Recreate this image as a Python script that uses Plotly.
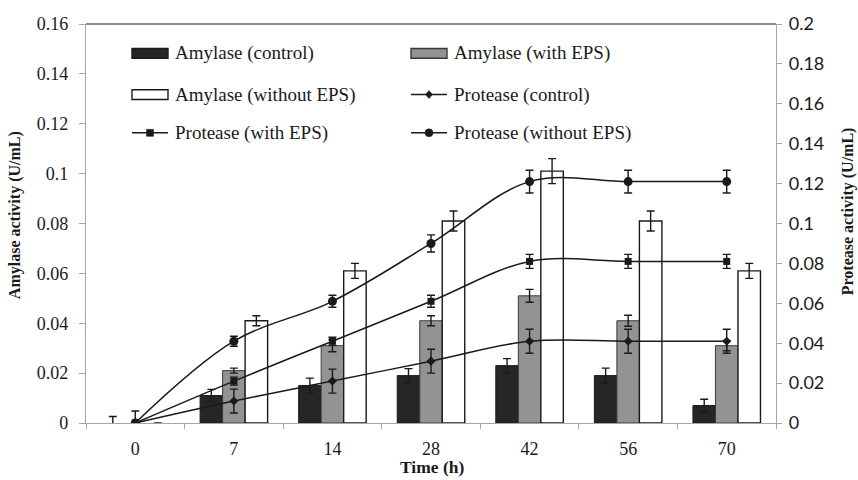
import plotly.graph_objects as go

# Sampling times (h)
times = ["0", "7", "14", "28", "42", "56", "70"]

# Amylase activity (U/mL), left axis
amy_control = [0, 0.011, 0.015, 0.019, 0.023, 0.019, 0.007]
amy_control_err = [0.0026, 0.0025, 0.003, 0.0028, 0.0028, 0.003, 0.0025]
amy_eps = [0, 0.021, 0.031, 0.041, 0.051, 0.041, 0.031]
amy_eps_err = [0, 0.001, 0.0024, 0.002, 0.0026, 0.0022, 0.002]
amy_noeps = [0, 0.041, 0.061, 0.081, 0.101, 0.081, 0.061]
amy_noeps_err = [0, 0.002, 0.003, 0.004, 0.005, 0.004, 0.003]

# Protease activity (U/mL), right axis
pro_control = [0, 0.011, 0.021, 0.031, 0.041, 0.041, 0.041]
pro_control_err = [0.006, 0.006, 0.006, 0.006, 0.006, 0.006, 0.006]
pro_eps = [0, 0.021, 0.041, 0.061, 0.081, 0.081, 0.081]
pro_eps_err = [0, 0.002, 0.002, 0.003, 0.0035, 0.0035, 0.0035]
pro_noeps = [0, 0.041, 0.061, 0.090, 0.121, 0.121, 0.121]
pro_noeps_err = [0, 0.0025, 0.003, 0.0043, 0.0057, 0.0057, 0.0057]

SERIF = "Liberation Serif"
SANS = "Lato"
AXIS_GREY = "#a6a6a6"

# plot-area geometry in pixels (for placing the hand-built legend)
L, R, T, B = 86, 776, 16, 423
def px_x(p):
    return (p - L) / (R - L)
def px_y(p):
    return (B - p) / (B - T)

def edge_widths(vals, w):
    return [0 if v == 0 else w for v in vals]

def err(arr):
    return dict(type="data", array=arr, visible=True, color="#1a1a1a",
                thickness=1.4, width=4)

fig = go.Figure()

fig.add_trace(go.Bar(
    x=times, y=amy_control, name="Amylase (control)",
    marker=dict(color="#262626", line=dict(color="#1a1a1a", width=edge_widths(amy_control, 1))),
    error_y=err(amy_control_err), showlegend=False))
fig.add_trace(go.Bar(
    x=times, y=amy_eps, name="Amylase (with EPS)",
    marker=dict(color="#939393", line=dict(color="#3a3a3a", width=edge_widths(amy_eps, 1))),
    error_y=err(amy_eps_err), showlegend=False))
fig.add_trace(go.Bar(
    x=times, y=amy_noeps, name="Amylase (without EPS)",
    marker=dict(color="#ffffff", line=dict(color="#1a1a1a", width=edge_widths(amy_noeps, 1.4))),
    error_y=err(amy_noeps_err), showlegend=False))

line_style = dict(color="#1a1a1a", width=1.5, shape="spline", smoothing=1)
fig.add_trace(go.Scatter(
    x=times, y=pro_control, name="Protease (control)", yaxis="y2", mode="lines+markers",
    line=line_style, marker=dict(symbol="diamond", size=7, color="#1a1a1a"),
    error_y=err(pro_control_err), showlegend=False))
fig.add_trace(go.Scatter(
    x=times, y=pro_eps, name="Protease (with EPS)", yaxis="y2", mode="lines+markers",
    line=line_style, marker=dict(symbol="square", size=7, color="#1a1a1a"),
    error_y=err(pro_eps_err), showlegend=False))
fig.add_trace(go.Scatter(
    x=times, y=pro_noeps, name="Protease (without EPS)", yaxis="y2", mode="lines+markers",
    line=line_style, marker=dict(symbol="circle", size=9, color="#1a1a1a"),
    error_y=err(pro_noeps_err), showlegend=False))

# ---- legend drawn as shapes + text, laid out in two columns ----
shapes = []
annotations = []
col_x = [132, 411]
row_y = [46, 88, 127]
sw = 36
items = [
    ("bar", "#262626", "#1a1a1a", None, "Amylase (control)"),
    ("bar", "#939393", "#3a3a3a", None, "Amylase (with EPS)"),
    ("bar", "#ffffff", "#1a1a1a", None, "Amylase (without EPS)"),
    ("line", None, None, "diamond", "Protease (control)"),
    ("line", None, None, "square", "Protease (with EPS)"),
    ("line", None, None, "circle", "Protease (without EPS)"),
]
for i, (kind, fill, edge, sym, label) in enumerate(items):
    cx = col_x[i % 2]
    cy = row_y[i // 2]
    if kind == "bar":
        shapes.append(dict(type="rect", xref="paper", yref="paper",
                           x0=px_x(cx), x1=px_x(cx + sw), y0=px_y(cy + 5), y1=px_y(cy - 5),
                           fillcolor=fill, line=dict(color=edge, width=1.4)))
    else:
        shapes.append(dict(type="line", xref="paper", yref="paper",
                           x0=px_x(cx), x1=px_x(cx + sw), y0=px_y(cy), y1=px_y(cy),
                           line=dict(color="#1a1a1a", width=1.5)))
        mx, my = px_x(cx + sw / 2), px_y(cy)
        common = dict(xref="paper", yref="paper", xsizemode="pixel", ysizemode="pixel",
                      xanchor=mx, yanchor=my, fillcolor="#1a1a1a",
                      line=dict(color="#1a1a1a", width=0.5))
        if sym == "circle":
            shapes.append(dict(type="circle", x0=-4, x1=4, y0=-4, y1=4, **common))
        elif sym == "square":
            shapes.append(dict(type="rect", x0=-3.5, x1=3.5, y0=-3.5, y1=3.5, **common))
        else:
            shapes.append(dict(type="path", path="M0,-4 L3.5,0 L0,4 L-3.5,0 Z", **common))
    annotations.append(dict(xref="paper", yref="paper", x=px_x(cx + sw + 5), y=px_y(cy),
                            xanchor="left", yanchor="middle", showarrow=False, text=label,
                            font=dict(family=SERIF, size=19, color="#1a1a1a")))

# black frame line along the top of the plot area
shapes.append(dict(type="line", xref="paper", yref="paper", x0=0, x1=1, y0=1, y1=1,
                   line=dict(color="#1a1a1a", width=1.2)))

# axis titles
annotations.append(dict(xref="paper", yref="paper", x=px_x(15), y=px_y(211),
                        text="<b>Amylase activity (U/mL)</b>", textangle=-90, showarrow=False,
                        xanchor="center", yanchor="middle",
                        font=dict(family=SERIF, size=16, color="#1a1a1a")))
annotations.append(dict(xref="paper", yref="paper", x=px_x(848), y=px_y(207),
                        text="<b>Protease activity (U/mL)</b>", textangle=-90, showarrow=False,
                        xanchor="center", yanchor="middle",
                        font=dict(family=SERIF, size=16, color="#1a1a1a")))
annotations.append(dict(xref="paper", yref="paper", x=px_x(432), y=px_y(468),
                        text="<b>Time (h)</b>", showarrow=False,
                        xanchor="center", yanchor="middle",
                        font=dict(family=SERIF, size=17.5, color="#1a1a1a")))

fig.update_layout(
    width=858, height=480,
    margin=dict(l=L, r=858 - R, t=T, b=480 - B),
    paper_bgcolor="white", plot_bgcolor="white",
    barmode="group", bargap=0.315, bargroupgap=0,
    showlegend=False,
    xaxis=dict(type="category", categoryorder="array", categoryarray=times,
               showline=True, linecolor=AXIS_GREY, linewidth=1.2,
               ticks="outside", tickson="boundaries", ticklen=5, tickcolor=AXIS_GREY,
               showgrid=False, zeroline=False, ticklabelstandoff=9,
               tickfont=dict(family=SERIF, size=18, color="#1a1a1a")),
    yaxis=dict(range=[0, 0.16], dtick=0.02, showline=True, linecolor=AXIS_GREY, linewidth=1.2,
               ticks="outside", ticklen=6, tickcolor=AXIS_GREY, showgrid=False, zeroline=False,
               ticklabelstandoff=7,
               tickfont=dict(family=SERIF, size=18, color="#1a1a1a")),
    yaxis2=dict(range=[0, 0.2], dtick=0.02, overlaying="y", side="right",
                showline=True, linecolor=AXIS_GREY, linewidth=1.2,
                ticks="outside", ticklen=5, tickcolor=AXIS_GREY, showgrid=False, zeroline=False,
                ticklabelstandoff=3,
                tickfont=dict(family=SANS, size=18, color="#1a1a1a")),
    shapes=shapes,
    annotations=annotations,
)

fig.write_html("out.html")
